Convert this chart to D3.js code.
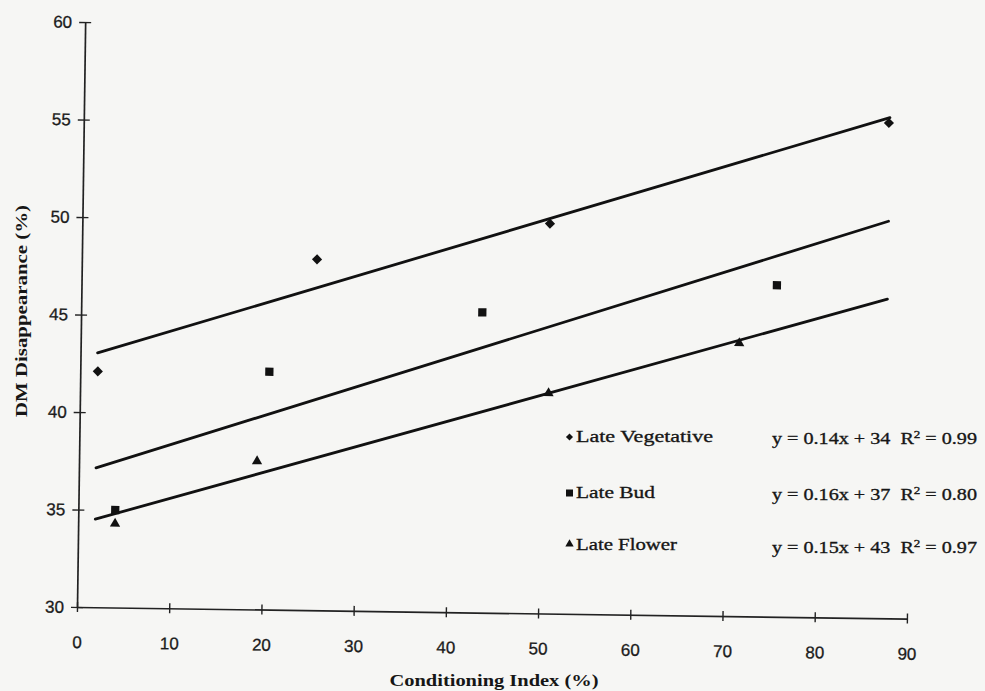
<!DOCTYPE html>
<html><head><meta charset="utf-8">
<script src="https://cdn.jsdelivr.net/npm/d3@7"></script>
<style>body{margin:0;background:#f6f6f4;}svg{display:block;}</style>
</head><body>
<script>
// ---- data ----
const seriesNames = ["Late Vegetative", "Late Bud", "Late Flower"];
const vegX = [1.9, 25.5, 50.7, 87.3];
const vegY = [42.1, 48.0, 50.0, 55.4];
const budX = [4.0, 20.5, 43.5, 75.4];
const budY = [35.0, 42.2, 45.4, 47.0];
const flwX = [4.0, 19.3, 50.8, 71.4];
const flwY = [34.3, 37.6, 41.3, 44.0];
const equations = ["y = 0.14x + 34", "y = 0.16x + 37", "y = 0.15x + 43"];
const r2Values = ["0.99", "0.80", "0.97"];
const xTicks = [0, 10, 20, 30, 40, 50, 60, 70, 80, 90];
const yTicks = [30, 35, 40, 45, 50, 55, 60];
const trendRange = [1.85, 87.4];
const xTitle = "Conditioning Index (%)";
const yTitle = "DM Disappearance (%)";

const W = 985, H = 691;
const svg = d3.select("body").append("svg").attr("width", W).attr("height", H);
svg.append("rect").attr("width", W).attr("height", H).attr("fill", "#f6f6f4");

const x = d3.scaleLinear().domain([0, 90]).range([77, 907]);
const y = d3.scaleLinear().domain([30, 60]).range([607, 22]);

const ink = "#161616";
const g = svg.append("g").attr("transform", "rotate(0.8, 77, 607)");

// axes
const xAxis = g.append("g").attr("transform", "translate(0,607)")
  .call(d3.axisBottom(x).tickValues(xTicks).tickSizeInner(5).tickSizeOuter(0).tickPadding(24));
const yAxis = g.append("g").attr("transform", "translate(77,0)")
  .call(d3.axisLeft(y).tickValues(yTicks).tickSizeInner(6).tickSizeOuter(0).tickPadding(7));
[xAxis, yAxis].forEach(a => {
  a.select(".domain").attr("stroke", "#222").attr("stroke-width", 1.7);
  a.selectAll(".tick text").attr("fill", "#1c1c1c")
    .attr("stroke", "#1c1c1c").attr("stroke-width", 0.3)
    .style("font-family", "'Liberation Sans', Arial, sans-serif").style("font-size", "17px");
});
xAxis.selectAll(".tick line").attr("y1", -5).attr("y2", 5).attr("stroke", "#222").attr("stroke-width", 1.4);
yAxis.selectAll(".tick line").attr("x1", -6).attr("x2", 6).attr("stroke", "#222").attr("stroke-width", 1.4);

// series
const diamond = d3.symbolDiamond2 || d3.symbolDiamond;
const series = [
  {xs: vegX, ys: vegY, sym: diamond, size: 66, lsize: 32},
  {xs: budX, ys: budY, sym: d3.symbolSquare, size: 68, lsize: 49},
  {xs: flwX, ys: flwY, sym: d3.symbolTriangle, size: 46, lsize: 30}
];

function fit(xs, ys) {
  const mx = d3.mean(xs), my = d3.mean(ys);
  const sxy = d3.sum(xs, (v, i) => (v - mx) * (ys[i] - my));
  const sxx = d3.sum(xs, v => (v - mx) * (v - mx));
  const b = sxy / sxx;
  return {b, a: my - b * mx};
}

const line = d3.line().x(d => x(d[0])).y(d => y(d[1]));
series.forEach(s => {
  const f = fit(s.xs, s.ys);
  const pts = trendRange.map(v => [v, f.a + f.b * v]);
  g.append("path").attr("d", line(pts)).attr("fill", "none")
    .attr("stroke", "#111").attr("stroke-width", 2.8).attr("stroke-linecap", "round");
});
series.forEach(s => {
  g.selectAll(null).data(s.xs.map((v, i) => [v, s.ys[i]])).enter().append("path")
    .attr("d", d3.symbol().type(s.sym).size(s.size))
    .attr("transform", d => `translate(${x(d[0])},${y(d[1])})`)
    .attr("fill", "#111");
});

// legend
const legY = [437, 493, 544];
const nameBase = [442, 498, 550];
const eqBase = [444, 500, 553];
const nameLen = [137, 79, 101];
const serif = "'Liberation Serif', 'Times New Roman', serif";
series.forEach((s, i) => {
  svg.append("path").attr("d", d3.symbol().type(s.sym).size(s.lsize)())
    .attr("transform", `translate(569.5,${legY[i]})`).attr("fill", "#111");
  svg.append("text").attr("x", 576).attr("y", nameBase[i])
    .attr("textLength", nameLen[i]).attr("lengthAdjust", "spacingAndGlyphs")
    .style("font-family", serif).style("font-size", "17px")
    .attr("fill", ink).attr("stroke", ink).attr("stroke-width", 0.35).text(seriesNames[i]);
  const t = svg.append("text").attr("x", 772).attr("y", eqBase[i])
    .style("font-family", serif).style("font-size", "17px")
    .attr("fill", ink).attr("stroke", ink).attr("stroke-width", 0.35)
    .attr("textLength", 205).attr("lengthAdjust", "spacingAndGlyphs");
  t.append("tspan").text(equations[i] + "\u00a0\u00a0R");
  t.append("tspan").attr("dy", -6).style("font-size", "11px").text("2");
  t.append("tspan").attr("dy", 6).text(" = " + r2Values[i]);
});

// axis titles
svg.append("text").attr("x", 494).attr("y", 686).attr("text-anchor", "middle")
  .attr("textLength", 209).attr("lengthAdjust", "spacingAndGlyphs")
  .style("font-family", serif).style("font-size", "16px")
  .style("font-weight", "bold").attr("fill", ink).text(xTitle);
svg.append("text").attr("transform", "translate(27,311) rotate(-90)").attr("text-anchor", "middle")
  .attr("textLength", 212).attr("lengthAdjust", "spacingAndGlyphs")
  .style("font-family", serif).style("font-size", "16px")
  .style("font-weight", "bold").attr("fill", ink).text(yTitle);
</script>
</body></html>
